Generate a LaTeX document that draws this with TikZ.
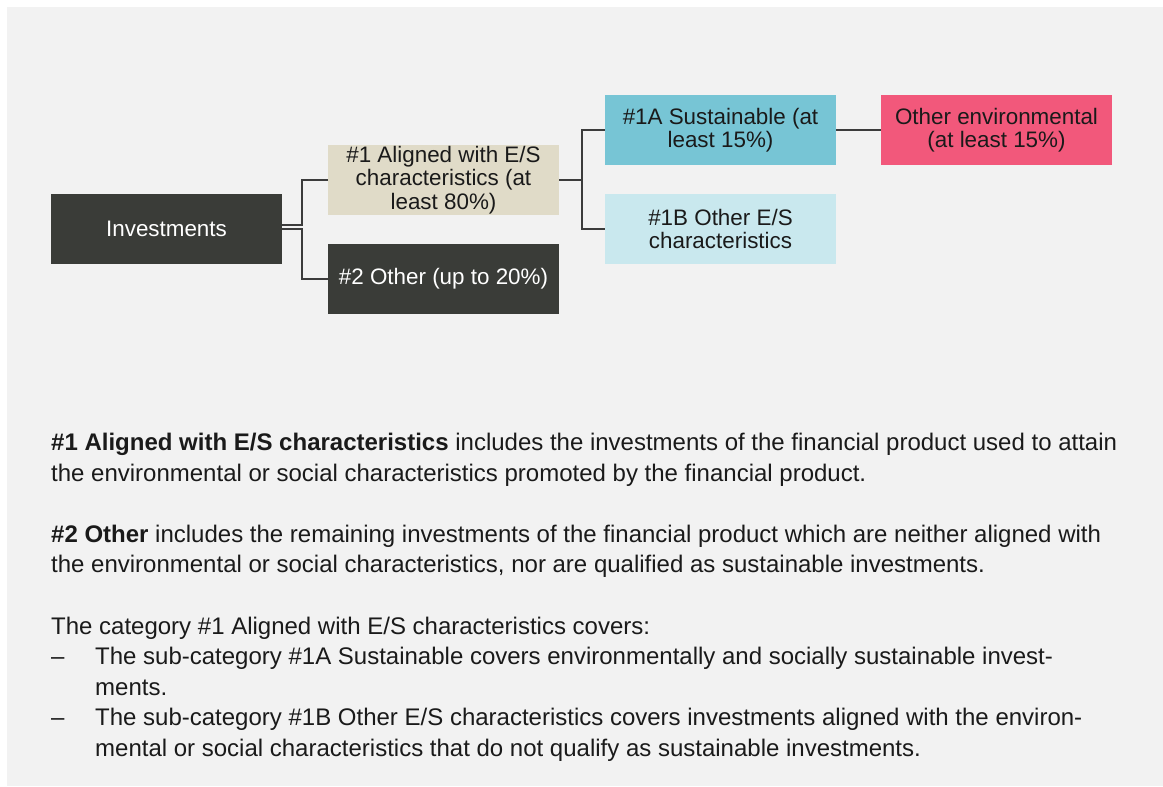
\documentclass[tikz,border=0pt]{standalone}
\usepackage{fontspec}
\setmainfont{Liberation Sans}
\begin{document}
\begin{tikzpicture}[x=1pt,y=-1pt,
  box/.style={rectangle,minimum width=231pt,minimum height=70pt,inner sep=0pt,align=center,
    font=\fontsize{22.4}{23.5}\selectfont,text=txtdark},
  conn/.style={draw=lndark,line width=2.4pt},
  para/.style={anchor=base west,inner sep=0pt,font=\fontsize{24}{28}\selectfont,text=txtdark}]
\definecolor{bggray}{HTML}{F2F2F2}
\definecolor{boxdark}{HTML}{3A3C38}
\definecolor{boxbeige}{HTML}{E0DBC8}
\definecolor{boxteal}{HTML}{77C5D5}
\definecolor{boxlteal}{HTML}{C9E8EE}
\definecolor{boxpink}{HTML}{F2587B}
\definecolor{lndark}{HTML}{3C3C3C}
\definecolor{txtdark}{HTML}{1A1A1A}
\useasboundingbox (0,0) rectangle (1163,787);
\fill[white] (0,0) rectangle (1163,787);
\fill[bggray] (7,7) rectangle (1163,786);

\node[box,fill=boxdark,text=white] (inv) at (166.5,229) {Investments};
\node[box,fill=boxbeige] (a1) at (443.5,180) {\#1 Aligned with E/S\\characteristics (at\\least 80\%)};
\node[box,fill=boxdark,text=white] (o2) at (443.5,279) {\#2 Other (up to 20\%)};
\node[box,fill=boxteal] (s1a) at (720.5,130) {\#1A Sustainable (at\\least 15\%)};
\node[box,fill=boxlteal] (s1b) at (720.5,229) {\#1B Other E/S\\characteristics};
\node[box,fill=boxpink] (oe) at (996.5,130) {Other environmental\\(at least 15\%)};

\draw[conn] ([yshift=4pt]inv.east) -- ++(20,0) |- (a1.west);
\draw[conn] ([yshift=0pt]inv.east) -- ++(20,0) |- (o2.west);
\draw[conn] (a1.east) -- ++(23,0) |- (s1a.west);
\draw[conn] (a1.east) -- ++(23,0) |- (s1b.west);
\draw[conn] (s1a.east) -- (oe.west);

\node[para] (l0) at (51,450.5) {\textbf{\#1 Aligned with E/S characteristics} includes the investments of the financial product used to attain};
\node[para] (l1) at (51,481.1) {the environmental or social characteristics promoted by the financial product.};
\node[para] (l3) at (51,542.3) {\textbf{\#2 Other} includes the remaining investments of the financial product which are neither aligned with};
\node[para] (l4) at (51,572.9) {the environmental or social characteristics, nor are qualified as sustainable investments.};
\node[para] (l6) at (51,634.1) {The category \#1 Aligned with E/S characteristics covers:};
\node[para] (d7) at (51,664.7) {–};
\node[para] (l7) at (95,664.7) {The sub-category \#1A Sustainable covers environmentally and socially sustainable invest-};
\node[para] (l8) at (95,695.3) {ments.};
\node[para] (d9) at (51,725.9) {–};
\node[para] (l9) at (95,725.9) {The sub-category \#1B Other E/S characteristics covers investments aligned with the environ-};
\node[para] (l10) at (95,756.5) {mental or social characteristics that do not qualify as sustainable investments.};
\end{tikzpicture}
\end{document}
